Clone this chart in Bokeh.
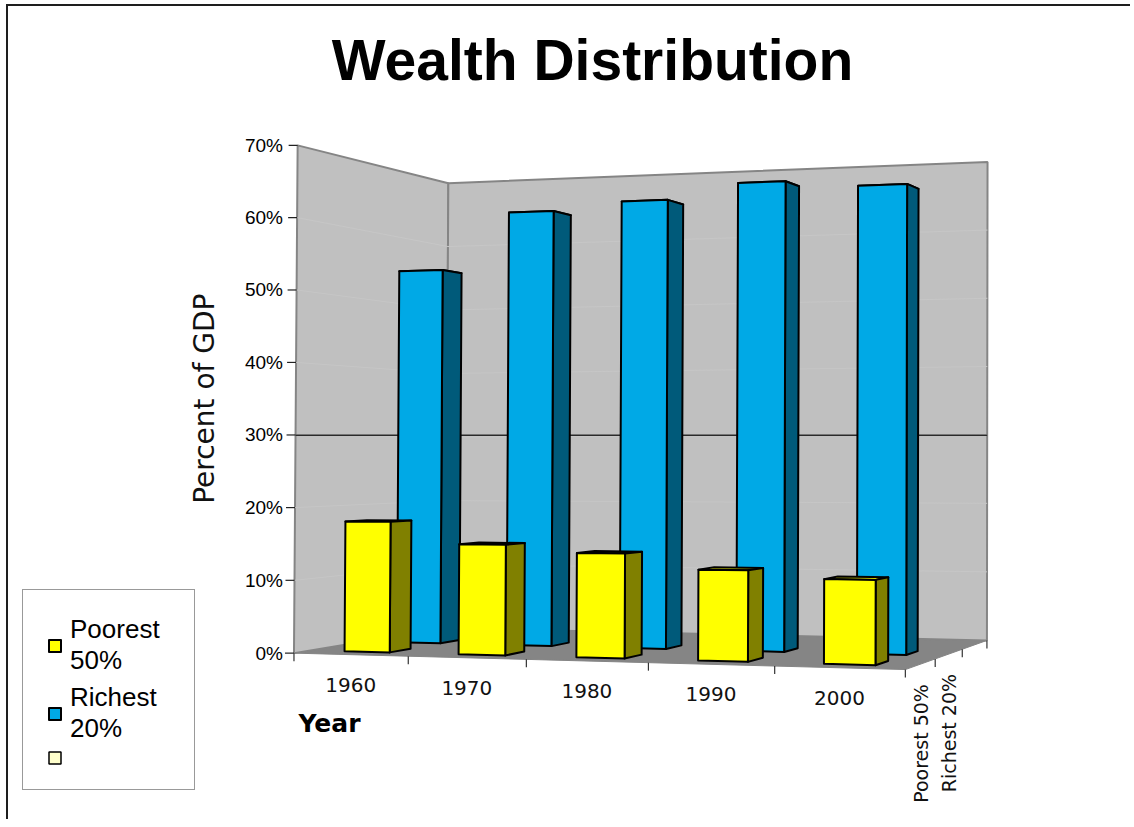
import numpy as np
from bokeh.plotting import figure
from bokeh.models import Range1d, Legend, LegendItem
from bokeh.core.properties import value
from bokeh.embed import file_html
from bokeh.resources import INLINE

# ---------------- data ----------------
YEARS = ["1960", "1970", "1980", "1990", "2000"]
SERIES = ["Poorest 50%", "Richest 20%"]
POOREST_50 = [0.18, 0.15, 0.14, 0.12, 0.11]
RICHEST_20 = [0.54, 0.62, 0.63, 0.65, 0.64]
Y_TICKS = [0.0, 0.1, 0.2, 0.3, 0.4, 0.5, 0.6, 0.7]
Y_TICK_LABELS = ["0%", "10%", "20%", "30%", "40%", "50%", "60%", "70%"]
Y_MAX = 0.7
HIGHLIGHT_LEVEL = 0.3
TITLE = "Wealth Distribution"
Y_LABEL = "Percent of GDP"
X_LABEL = "Year"

N_CAT = len(YEARS)
N_DEPTH = 3          # two series rows plus the empty third row

# ---------------- view (camera calibration: where the box corners sit on screen) ----
BOX_3D = [(0, 0, 0), (0, 0, Y_MAX), (0, N_DEPTH, Y_MAX), (N_CAT, N_DEPTH, Y_MAX),
          (N_CAT, N_DEPTH, 0), (N_CAT, 0, 0), (1, 0, 0), (2, 0, 0), (3, 0, 0),
          (4, 0, 0), (N_CAT, 1, 0), (N_CAT, 2, 0)]
BOX_PX = [(293, 652), (297, 145), (448, 183), (987, 161), (987, 640), (905, 668),
          (407, 655), (527, 659), (649, 663), (774, 667), (934, 658), (961, 649)]

BORDER = 2
ORIGIN_X, ORIGIN_Y = 8, 6          # screen position of the canvas
W, H = 1122, 813
Y0_PX, YMAX_PX = 652, 145
K = (Y0_PX - YMAX_PX) / Y_MAX      # pixels per unit of value along the front edge
FRAME_BOT = ORIGIN_Y + H


def fit_camera(pts3, pts2):
    P3 = np.array(pts3, float) * np.array([1.0, 1.0, 10.0])
    P2 = np.array(pts2, float)
    m = P2.mean(0)
    s = P2.std()
    n2 = (P2 - m) / s
    rows = []
    for (X, Y, Z), (x, y) in zip(P3, n2):
        Xh = [X, Y, Z, 1.0]
        rows.append(Xh + [0, 0, 0, 0] + [-x * c for c in Xh])
        rows.append([0, 0, 0, 0] + Xh + [-y * c for c in Xh])
    _, _, Vt = np.linalg.svd(np.array(rows))
    M = Vt[-1].reshape(3, 4)

    def project(u, w, v):
        h = M @ np.array([u, w, v * 10.0, 1.0])
        return h[0] / h[2] * s + m[0], h[1] / h[2] * s + m[1]
    return project


_project = fit_camera(BOX_3D, BOX_PX)


def to_data(px, py):
    return px - ORIGIN_X, (Y0_PX - py) / K


def P(u, w, v):
    return to_data(*_project(u, w, v))


def poly(pts):
    xy = [P(*q) for q in pts]
    return [a for a, _ in xy], [b for _, b in xy]


# ---------------- figure ----------------
p = figure(frame_width=W, frame_height=H, min_border=0,
           x_range=Range1d(0, W),
           y_range=Range1d(-(FRAME_BOT - Y0_PX) / K, (Y0_PX - ORIGIN_Y) / K),
           x_axis_location=None, y_axis_location=None,
           toolbar_location=None, output_backend="svg")
p.styles = {"border-top": f"{BORDER}px solid #1e1e1e",
            "border-left": f"{BORDER}px solid #1e1e1e",
            "margin-left": f"{ORIGIN_X - BORDER}px",
            "margin-top": f"{ORIGIN_Y - BORDER}px"}
p.outline_line_color = None
p.background_fill_color = "white"
p.border_fill_color = "white"
p.xgrid.visible = False
p.ygrid.visible = False

# floor and walls
fx, fy = poly([(0, 0, 0), (N_CAT, 0, 0), (N_CAT, N_DEPTH, 0), (0, N_DEPTH, 0)])
lx, ly = poly([(0, 0, 0), (0, 0, Y_MAX), (0, N_DEPTH, Y_MAX), (0, N_DEPTH, 0)])
bx, by = poly([(0, N_DEPTH, 0), (0, N_DEPTH, Y_MAX), (N_CAT, N_DEPTH, Y_MAX), (N_CAT, N_DEPTH, 0)])
p.patches(xs=[fx], ys=[fy], fill_color="#858585", line_color="#858585", line_width=1)
p.patches(xs=[lx, bx], ys=[ly, by], fill_color="#c0c0c0", line_color="#858585", line_width=2)

# faint grid on the walls
gxs, gys = [], []
for t in Y_TICKS[1:-1]:
    gx, gy = poly([(0, 0, t), (0, N_DEPTH, t), (N_CAT, N_DEPTH, t)])
    gxs.append(gx)
    gys.append(gy)
p.multi_line(xs=gxs, ys=gys, line_color="#c6c6c6", line_width=1)

# the flat highlighted 30% line
hx0, _ = P(0, 0, HIGHLIGHT_LEVEL)
hx1, _ = P(N_CAT, N_DEPTH, HIGHLIGHT_LEVEL)
p.segment(x0=[hx0], y0=[HIGHLIGHT_LEVEL], x1=[hx1], y1=[HIGHLIGHT_LEVEL],
          line_color="#2a2a2a", line_width=1.5)

# bars
BAR_LO, BAR_HI = 0.3, 0.7
STYLE = {
    0: dict(front="#ffff00", side="#808000", top="#e0e000"),
    1: dict(front="#00a9e6", side="#005a7a", top="#0087b8"),
}
VALUES = [POOREST_50, RICHEST_20]
front_renderers = {}
for s in [1, 0]:
    faces = {"top": ([], []), "side": ([], []), "front": ([], [])}
    for i, v in enumerate(VALUES[s]):
        u0, u1 = i + BAR_LO, i + BAR_HI
        w0, w1 = s + BAR_LO, s + BAR_HI
        for name, pts in (
            ("top", [(u0, w0, v), (u1, w0, v), (u1, w1, v), (u0, w1, v)]),
            ("side", [(u1, w0, 0), (u1, w1, 0), (u1, w1, v), (u1, w0, v)]),
            ("front", [(u0, w0, 0), (u1, w0, 0), (u1, w0, v), (u0, w0, v)]),
        ):
            xs, ys = poly(pts)
            faces[name][0].append(xs)
            faces[name][1].append(ys)
    for name in ("top", "side", "front"):
        r = p.patches(xs=faces[name][0], ys=faces[name][1], fill_color=STYLE[s][name],
                      line_color="black", line_width=2, line_join="round")
        if name == "front":
            front_renderers[s] = r
# third (empty) series row: nothing drawn, only its legend key
empty_r = p.patches(xs=[[np.nan]], ys=[[np.nan]], fill_color="#ffffcc",
                    line_color="black", line_width=1.5)

# y axis drawn along the slanted front-left edge of the box
TICK_PX = 9
yt_x0, yt_y, yt_x1 = [], [], []
for t in Y_TICKS:
    x, y = P(0, 0, t)
    yt_x0.append(x); yt_y.append(y); yt_x1.append(x - TICK_PX)
p.segment(x0=yt_x0, y0=yt_y, x1=yt_x1, y1=yt_y, line_color="#222222", line_width=1.2)
lab_x = P(0, 0, 0)[0] - TICK_PX - 2
p.text(x=[lab_x] * len(Y_TICKS), y=yt_y, text=Y_TICK_LABELS, text_align="right",
       text_baseline="middle", text_font=value("Liberation Sans"), text_font_size="19px",
       text_color="black")
ylab_x, ylab_y = P(0, 0, Y_MAX / 2)
p.text(x=[ylab_x - 91], y=[ylab_y], text=[Y_LABEL], angle=np.pi / 2, text_align="center",
       text_baseline="middle", text_font=value("DejaVu Sans"), text_font_size="28px",
       text_color="#111111")

# category ticks on the front edge and depth ticks on the right edge
TICK_LEN = 8 / K
tx0, ty0, tx1, ty1 = [], [], [], []
for u in range(N_CAT + 1):
    x, y = P(u, 0, 0)
    tx0.append(x); ty0.append(y); tx1.append(x); ty1.append(y - TICK_LEN)
for w in range(1, N_DEPTH + 1):
    x, y = P(N_CAT, w, 0)
    tx0.append(x); ty0.append(y); tx1.append(x); ty1.append(y - TICK_LEN)
p.segment(x0=tx0, y0=ty0, x1=tx1, y1=ty1, line_color="#333333", line_width=1.2)

# year labels
cx = [P(i + 0.5, 0, 0)[0] for i in range(N_CAT)]
cy = [P(i + 0.5, 0, 0)[1] for i in range(N_CAT)]
p.text(x=cx, y=cy, text=YEARS, y_offset=30, text_align="center", text_baseline="middle",
       text_font=value("DejaVu Sans"), text_font_size="20px", text_color="#111111")

# depth (series) labels
dx = [P(N_CAT, s + 0.5, 0)[0] for s in range(len(SERIES))]
dy = [P(N_CAT, s + 0.5, 0)[1] for s in range(len(SERIES))]
p.text(x=dx, y=dy, text=SERIES, angle=np.pi / 2, y_offset=20, text_align="right",
       text_baseline="middle", text_font=value("DejaVu Sans"), text_font_size="19px",
       text_color="#111111")

# title and x label
tx, ty = to_data(592, 59)
p.text(x=[tx], y=[ty], text=[TITLE], text_align="center", text_baseline="middle",
       text_font=value("Liberation Sans"), text_font_style="bold", text_font_size="57px",
       text_color="black")
yx, yy = to_data(298, 723)
p.text(x=[yx], y=[yy], text=[X_LABEL], text_align="left", text_baseline="middle",
       text_font=value("DejaVu Sans"), text_font_style="bold", text_font_size="25px",
       text_color="black")

# legend
legend = Legend(items=[
    LegendItem(label=SERIES[0].replace(" ", "\n"), renderers=[front_renderers[0]]),
    LegendItem(label=SERIES[1].replace(" ", "\n"), renderers=[front_renderers[1]]),
    LegendItem(label=" ", renderers=[empty_r]),
], location=(22 - ORIGIN_X, FRAME_BOT - 790))
legend.label_text_font = "Liberation Sans"
legend.label_text_font_size = "26px"
legend.label_text_color = "black"
legend.label_text_line_height = 1.2
legend.label_width = 100
legend.glyph_width = 15
legend.glyph_height = 15
legend.label_standoff = 8
legend.padding = 24
legend.spacing = 6
legend.margin = 0
legend.border_line_color = "#333333"
legend.border_line_width = 1
legend.background_fill_color = "white"
legend.background_fill_alpha = 1.0
p.add_layout(legend)

open("out.html", "w").write(file_html(p, INLINE))
